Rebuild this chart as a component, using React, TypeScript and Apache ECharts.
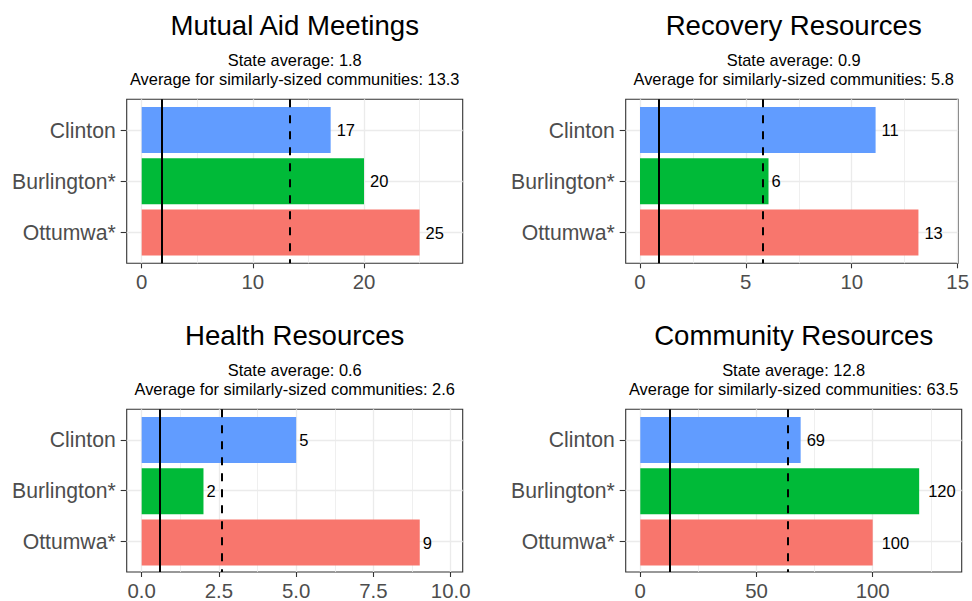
import React, { useEffect, useRef } from "react";
import * as echarts from "echarts";

const categories = ["Clinton", "Burlington*", "Ottumwa*"];
const barColors = ["#619CFF", "#00BA38", "#F8766D"];

const titles = ["Mutual Aid Meetings", "Recovery Resources", "Health Resources", "Community Resources"];
const mutualAid = [17, 20, 25];
const recovery = [11, 6, 13];
const health = [5, 2, 9];
const community = [69, 120, 100];
const panelValues = [mutualAid, recovery, health, community];

const stateAvg = [1.8, 0.9, 0.6, 12.8];
const similarAvg = [13.3, 5.8, 2.6, 63.5];

const majorTicks = [[0, 10, 20], [0, 5, 10, 15], [0, 2.5, 5, 7.5, 10], [0, 50, 100]];
const minorTicks = [[5, 15, 25], [2.5, 7.5, 12.5], [1.25, 3.75, 6.25, 8.75], [25, 75, 125]];
const tickDecimals = [0, 0, 1, 0];
const xRanges = [[-1.35, 28.88], [-0.668, 15.02], [-0.485, 10.39], [-6.28, 138.3]];

const FONT = "'Liberation Sans', Arial, sans-serif";

// frames: left, top, width, height
const frames = [
  { left: 126.7, top: 99.3, width: 336, height: 164 },
  { left: 625.7, top: 99.3, width: 336, height: 164 },
  { left: 126.7, top: 409.3, width: 336, height: 164 },
  { left: 625.7, top: 409.3, width: 336, height: 164 },
];
const titleY = [25.8, 25.8, 335.8, 335.8];

export default function App() {
  const ref = useRef<HTMLDivElement>(null);
  useEffect(() => {
    if (!ref.current) return;
    const chart = echarts.init(ref.current, null, { renderer: "svg" });

    const grid: any[] = [];
    const xAxis: any[] = [];
    const yAxis: any[] = [];
    const series: any[] = [];
    const graphic: any[] = [];

    frames.forEach((f, p) => {
      const step = f.height / 3.2;
      grid.push({
        left: f.left, top: f.top, width: f.width, height: f.height,
        show: true, borderColor: "#333333", borderWidth: 1.1, backgroundColor: "transparent",
      });
      grid.push({
        left: f.left, top: f.top + 0.1 * step, width: f.width, height: f.height - 0.2 * step,
        show: false,
      });
      const [mn, mx] = xRanges[p];
      xAxis.push({
        type: "value", gridIndex: 2 * p, min: mn, max: mx,
        axisLine: { show: false, onZero: false },
        axisTick: { show: true, customValues: majorTicks[p], length: 5, lineStyle: { color: "#333333", width: 1.1 } },
        axisLabel: {
          show: true, customValues: majorTicks[p], margin: 9,
          formatter: (v: number) => v.toFixed(tickDecimals[p]),
          fontSize: 20.4, color: "#4D4D4D", fontFamily: FONT,
        },
        splitLine: { show: false },
      });
      xAxis.push({ type: "value", gridIndex: 2 * p + 1, min: mn, max: mx, show: false, axisLine: { onZero: false } });
      yAxis.push({
        type: "value", gridIndex: 2 * p, min: -0.6, max: 2.6, inverse: true,
        axisLine: { show: false, onZero: false },
        axisTick: { show: true, customValues: [0, 1, 2], length: 6, lineStyle: { color: "#333333", width: 1.1 } },
        axisLabel: {
          show: true, customValues: [0, 1, 2], margin: 11,
          formatter: (v: number) => categories[Math.round(v)],
          fontSize: 21.2, color: "#4D4D4D", fontFamily: FONT,
        },
        splitLine: { show: false },
      });
      yAxis.push({
        type: "category", gridIndex: 2 * p + 1, data: categories, inverse: true, show: false,
        axisLine: { onZero: false },
      });

      // grid lines
      const gl: any[] = [];
      categories.forEach((_, i) => gl.push({ yAxis: i, lineStyle: { color: "#EBEBEB", width: 1.3, type: "solid" } }));
      majorTicks[p].forEach((v) => gl.push({ xAxis: v, lineStyle: { color: "#EBEBEB", width: 1.3, type: "solid" } }));
      minorTicks[p].forEach((v) => gl.push({ xAxis: v, lineStyle: { color: "#EBEBEB", width: 0.8, type: "solid" } }));
      series.push({
        type: "line", xAxisIndex: 2 * p, yAxisIndex: 2 * p, data: [], silent: true,
        markLine: { silent: true, symbol: "none", z: 1, label: { show: false }, animation: false, data: gl },
      });

      // bars
      series.push({
        type: "bar", xAxisIndex: 2 * p + 1, yAxisIndex: 2 * p + 1, z: 2,
        barWidth: "90%",
        data: panelValues[p].map((v, i) => ({
          value: v,
          itemStyle: { color: barColors[i] },
          label: { distance: 3 * String(v).length },
        })),
        label: {
          show: true, position: "right", color: "#000000", fontSize: 16.5, fontFamily: FONT,
          formatter: (d: any) => String(d.value),
        },
      });

      // reference lines
      series.push({
        type: "line", xAxisIndex: 2 * p, yAxisIndex: 2 * p, data: [], silent: true,
        markLine: {
          silent: true, symbol: "none", z: 10, label: { show: false }, animation: false,
          data: [
            { xAxis: stateAvg[p], lineStyle: { color: "#000000", width: 2, type: "solid" } },
            { xAxis: similarAvg[p], lineStyle: { color: "#000000", width: 2, type: [8, 8] } },
          ],
        },
      });

      const cx = f.left + f.width / 2;
      graphic.push({
        type: "text", x: cx, y: titleY[p],
        style: { text: titles[p], font: `27.6px ${FONT}`, fill: "#000000", textAlign: "center", textVerticalAlign: "middle" },
      });
      graphic.push({
        type: "text", x: cx, y: titleY[p] + 33.9,
        style: { text: `State average: ${stateAvg[p]}`, font: `16.4px ${FONT}`, fill: "#000000", textAlign: "center", textVerticalAlign: "middle" },
      });
      graphic.push({
        type: "text", x: cx, y: titleY[p] + 52.9,
        style: { text: `Average for similarly-sized communities: ${similarAvg[p]}`, font: `16.4px ${FONT}`, fill: "#000000", textAlign: "center", textVerticalAlign: "middle" },
      });
    });

    chart.setOption({
      animation: false,
      backgroundColor: "#FFFFFF",
      textStyle: { fontFamily: FONT },
      grid, xAxis, yAxis, series, graphic,
    });
    return () => chart.dispose();
  }, []);
  return <div ref={ref} style={{ position: "fixed", left: 0, top: 0, width: 972, height: 601 }} />;
}
